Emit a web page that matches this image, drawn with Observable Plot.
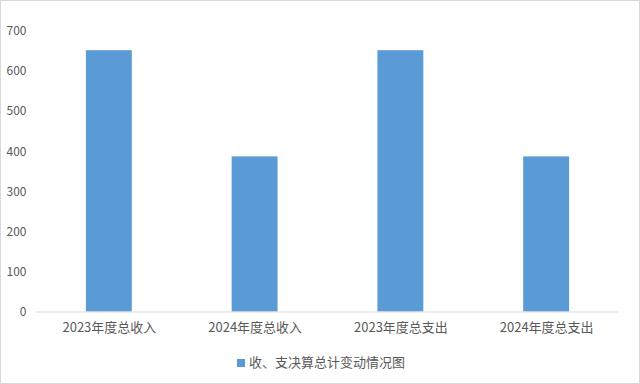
<!DOCTYPE html>
<html><head><meta charset="utf-8">
<script src="https://cdn.jsdelivr.net/npm/d3@7"></script>
<script src="https://cdn.jsdelivr.net/npm/@observablehq/plot@0.6"></script>
<style>
html,body{margin:0;padding:0;background:#fff;}
#wrap{position:relative;width:640px;height:384px;box-sizing:border-box;border:1px solid #d9d9d9;overflow:hidden;font-family:"Noto Sans CJK SC","Noto Sans",sans-serif;}
#chart{position:absolute;left:-1px;top:-1px;}
#legend{position:absolute;left:0;top:351px;width:640px;text-align:center;font-size:13px;color:#595959;}
#legend span.sw{display:inline-block;width:8px;height:8px;background:#5b9bd5;margin-right:4px;vertical-align:0px;}
</style></head>
<body><div id="wrap"><div id="chart"></div><div id="legend"><span class="sw"></span>收、支决算总计变动情况图</div></div>
<script>
const categories = ["2023年度总收入","2024年度总收入","2023年度总支出","2024年度总支出"];
const values = [652, 387, 652, 387];
const yTicks = [0,100,200,300,400,500,600,700];
const data = categories.map((c,i)=>({category:c, value:values[i]}));
const plot = Plot.plot({
  width: 640, height: 345,
  marginTop: 31, marginBottom: 33, marginLeft: 36, marginRight: 20,
  style: {fontFamily: '"Noto Sans CJK SC","Noto Sans",sans-serif', fontSize: "12px", color: "#595959", background: "transparent"},
  x: {domain: categories, padding: 0, label: null, tickSize: 0, tickPadding: 11},
  y: {domain: [0,700], ticks: yTicks, label: null, tickSize: 0, tickPadding: 10},
  marks: [
    Plot.barY(data, {x: "category", y: "value", fill: "#5b9bd5", insetLeft: 50, insetRight: 50}),
    Plot.ruleY([0], {stroke: "#d9d9d9", strokeWidth: 1})
  ]
});
plot.querySelectorAll("text").forEach(t=>t.setAttribute("fill","#595959"));
plot.querySelectorAll("g[aria-label='x-axis tick label'] text").forEach(t=>t.style.fontSize="13px");
document.getElementById("chart").appendChild(plot);
</script></body></html>
